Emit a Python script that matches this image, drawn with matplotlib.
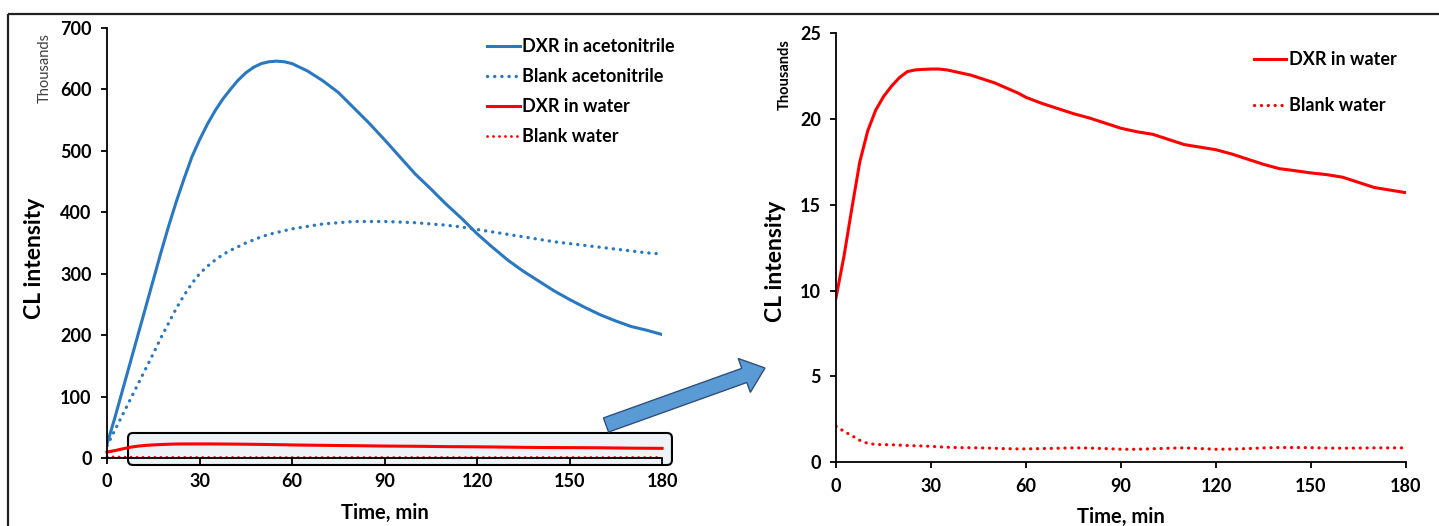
import matplotlib
matplotlib.use("Agg")
import matplotlib.pyplot as plt
from matplotlib.patches import FancyBboxPatch, FancyArrow, Rectangle

plt.rcParams['font.family'] = ['Lato', 'DejaVu Sans']
plt.rcParams['font.weight'] = 'bold'

# CL intensity, in thousands, sampled every 2.5 min for the first hour
time_min = [0, 2.5, 5, 7.5, 10, 12.5, 15, 17.5, 20, 22.5, 25, 27.5, 30, 32.5, 35, 37.5,
            40, 42.5, 45, 47.5, 50, 52.5, 55, 57.5, 60, 65, 70, 75, 80, 85, 90, 95, 100,
            105, 110, 115, 120, 125, 130, 135, 140, 145, 150, 155, 160, 165, 170, 175,
            180]
dxr_acn = [23, 65, 110, 155, 200, 245, 290, 335, 378, 418, 455, 490, 518, 543, 565,
           584, 600, 615, 627, 636, 642, 645, 646, 645, 642, 630, 614, 595, 570, 545,
           518, 490, 462, 438, 413, 390, 365, 343, 322, 304, 288, 272, 258, 245, 233,
           223, 214, 208, 201]
blank_acn = [20, 45, 70, 95, 120, 145, 170, 196, 220, 244, 265, 284, 300, 312, 322, 331,
             338, 344, 350, 355, 360, 364, 367, 370, 373, 377, 381, 383, 385, 385, 385,
             384, 383, 381, 379, 376, 372, 368, 364, 360, 356, 352, 349, 346, 343, 340,
             337, 334, 332]
dxr_water = [9.6, 12.0, 14.8, 17.5, 19.3, 20.5, 21.3, 21.9, 22.4, 22.75, 22.85, 22.88,
             22.9, 22.9, 22.85, 22.75, 22.65, 22.55, 22.4, 22.25, 22.1, 21.9, 21.7, 21.5,
             21.25, 20.9, 20.6, 20.3, 20.05, 19.75, 19.45, 19.25, 19.1, 18.8, 18.5, 18.35,
             18.2, 17.95, 17.65, 17.35, 17.1, 16.98, 16.85, 16.75, 16.6, 16.3, 16.0,
             15.85, 15.7]
blank_water = [2.1, 1.8, 1.55, 1.28, 1.1, 1.04, 1.03, 1.02, 1.0, 0.98, 0.96, 0.95, 0.93,
               0.9, 0.88, 0.86, 0.85, 0.85, 0.84, 0.83, 0.82, 0.8, 0.79, 0.78, 0.78, 0.8,
               0.82, 0.84, 0.83, 0.8, 0.76, 0.76, 0.79, 0.82, 0.84, 0.8, 0.76, 0.77, 0.8,
               0.84, 0.86, 0.86, 0.85, 0.83, 0.82, 0.83, 0.84, 0.84, 0.84]

x_ticks = [0, 30, 60, 90, 120, 150, 180]

BLUE = '#2a78c2'
RED = '#ff0000'
DOTS = (0, (0.05, 2.1))


def style_axes(ax, ymax, ystep):
    ax.set_xlim(0, 180)
    ax.set_ylim(0, ymax)
    ax.set_xticks(x_ticks)
    ax.set_yticks(range(0, ymax + 1, ystep))
    for side in ['top', 'right']:
        ax.spines[side].set_visible(False)
    for side in ['left', 'bottom']:
        ax.spines[side].set_linewidth(1.3)
    ax.tick_params(direction='out', length=4, width=1.3, labelsize=13, pad=7)
    ax.set_xlabel('Time, min', fontsize=14.5, fontweight='bold', labelpad=9)
    ax.set_ylabel('CL intensity', fontsize=16.5, fontweight='bold')


fig = plt.figure(figsize=(14.39, 5.26), dpi=100)

# left: all four runs
ax1 = fig.add_axes([0.0744, 0.1293, 0.3857, 0.8175])
style_axes(ax1, 700, 100)
ax1.plot(time_min, dxr_acn, color=BLUE, lw=2.2, label='DXR in acetonitrile')
ax1.plot(time_min, blank_acn, color=BLUE, lw=2.4, ls=DOTS, dash_capstyle='round',
         label='Blank acetonitrile')
ax1.plot(time_min, dxr_water, color=RED, lw=2.2, label='DXR in water', clip_on=False)
ax1.plot(time_min, blank_water, color=RED, lw=2.0, ls=DOTS, dash_capstyle='round',
         label='Blank water', clip_on=False)
ax1.yaxis.set_label_coords(-0.112, 0.465)
ax1.text(-0.112, 0.907, 'Thousands', transform=ax1.transAxes, rotation=90,
         ha='center', va='center', fontsize=10.5, fontweight='normal', color='#404040')
ax1.legend(loc='upper left', bbox_to_anchor=(0.685, 0.977), frameon=False,
           fontsize=13, handlelength=1.8, handletextpad=0.15, labelspacing=0.72,
           borderpad=0, borderaxespad=0)

# highlight around the water traces
zoom_box = FancyBboxPatch((6.8, -11.4), 176.4, 52.1,
                          boxstyle='round,pad=0,rounding_size=1.6',
                          mutation_aspect=5.0, facecolor='#eef3f8', edgecolor='black',
                          lw=1.5, zorder=1.5, clip_on=False)
ax1.add_patch(zoom_box)

# right: water runs on their own scale
ax2 = fig.add_axes([0.581, 0.1211, 0.3961, 0.8162])
style_axes(ax2, 25, 5)
ax2.plot(time_min, dxr_water, color=RED, lw=2.2, label='DXR in water')
ax2.plot(time_min, blank_water, color=RED, lw=2.3, ls=DOTS, dash_capstyle='round',
         label='Blank water')
ax2.yaxis.set_label_coords(-0.087, 0.469)
ax2.text(-0.0895, 0.902, 'Thousands', transform=ax2.transAxes, rotation=90,
         ha='center', va='center', fontsize=10.5, fontweight='bold', color='black')
ax2.legend(loc='upper left', bbox_to_anchor=(0.733, 0.958), frameon=False,
           fontsize=13, handlelength=1.8, handletextpad=0.15, labelspacing=1.6,
           borderpad=0, borderaxespad=0)

# overlay in pixel units for the frame and the arrow
over = fig.add_axes([0, 0, 1, 1], zorder=5)
over.set_xlim(0, 1439)
over.set_ylim(526, 0)
over.axis('off')
over.patch.set_alpha(0)
over.add_patch(Rectangle((8, 14), 1450, 530, fill=False, lw=1.6, edgecolor='#222222',
                         clip_on=False))
over.add_patch(FancyArrow(606, 425, 159, -57, width=15, head_width=36, head_length=22,
                          length_includes_head=True, facecolor='#5b9bd5',
                          edgecolor='#2f4f7f', lw=1))

fig.savefig('out.png', dpi=100)
